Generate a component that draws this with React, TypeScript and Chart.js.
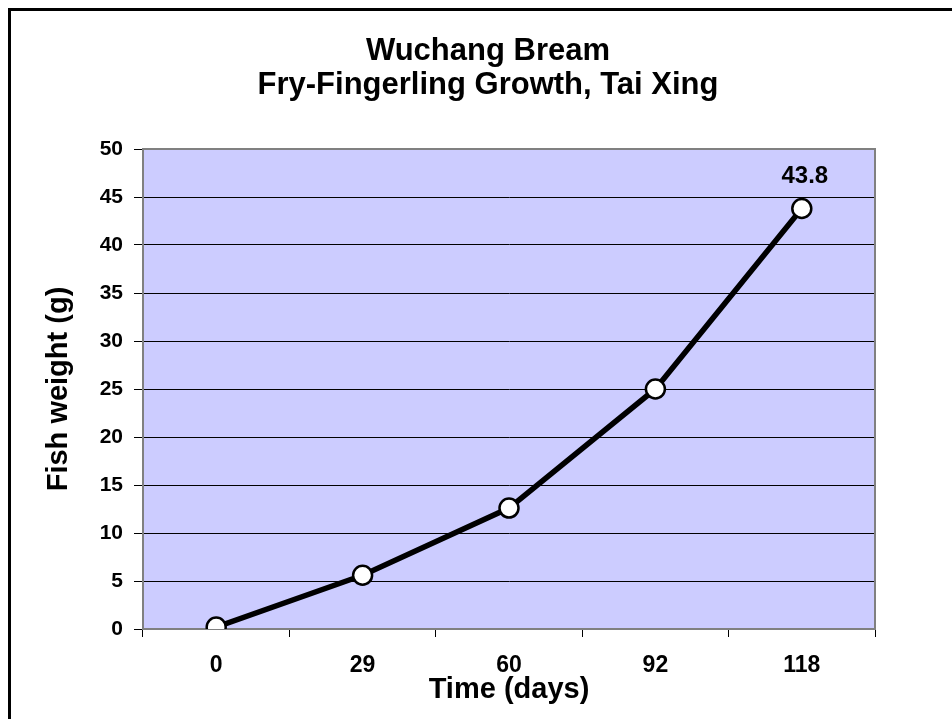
import React, { useEffect, useRef } from "react";
import { Chart, registerables } from "chart.js";

Chart.register(...registerables);

const categories = ["0", "29", "60", "92", "118"];
const weights = [0.2, 5.6, 12.6, 25.0, 43.8];
const titleLines = ["Wuchang Bream", "Fry-Fingerling Growth, Tai Xing"];
const xTitle = "Time (days)";
const yTitle = "Fish weight (g)";
const labelledIndex = 4;

const FONT = "'Liberation Sans', Arial, Helvetica, sans-serif";

const plotDecor = {
  id: "plotDecor",
  beforeDraw(chart: any) {
    const { ctx, chartArea: a } = chart;
    ctx.save();
    ctx.fillStyle = "#CCCCFF";
    ctx.fillRect(a.left, a.top, a.right - a.left, a.bottom - a.top);
    ctx.restore();
  },
  beforeDatasetsDraw(chart: any) {
    const { ctx, chartArea: a } = chart;
    ctx.save();
    ctx.strokeStyle = "#808080";
    ctx.lineWidth = 2;
    ctx.strokeRect(a.left, a.top, a.right - a.left, a.bottom - a.top);
    ctx.restore();
  },
  afterDraw(chart: any) {
    const { ctx } = chart;
    ctx.save();
    ctx.fillStyle = "#000";
    ctx.textAlign = "center";
    ctx.textBaseline = "middle";
    ctx.font = `bold 31px ${FONT}`;
    titleLines.forEach((t, i) => ctx.fillText(t, 488, 51 + i * 34));
    const pt = chart.getDatasetMeta(0).data[labelledIndex];
    ctx.font = `bold 24px ${FONT}`;
    ctx.fillText(String(weights[labelledIndex]), pt.x + 3, pt.y - 32);
    ctx.restore();
  },
};

export default function App() {
  const ref = useRef<HTMLCanvasElement | null>(null);
  useEffect(() => {
    const canvas = ref.current!;
    const chart = new Chart(canvas, {
      type: "line",
      data: {
        labels: categories,
        datasets: [
          {
            data: weights,
            borderColor: "#000",
            borderWidth: 5.5,
            pointRadius: 9.5,
            pointBackgroundColor: "#fff",
            pointBorderColor: "#000",
            pointBorderWidth: 2.5,
            tension: 0,
            fill: false,
          },
        ],
      },
      options: {
        responsive: false,
        animation: false,
        devicePixelRatio: 1,
        layout: { padding: { top: 149, right: 77, left: 0, bottom: 0 } },
        plugins: {
          legend: { display: false },
          title: { display: false },
          tooltip: { enabled: false },
        },
        scales: {
          x: {
            type: "category",
            offset: true,
            afterFit(s: any) {
              s.height = 90;
            },
            grid: {
              offset: true,
              drawOnChartArea: false,
              drawTicks: true,
              tickLength: 8,
              tickColor: "#000",
              tickWidth: 1,
            },
            border: { display: true, color: "#808080", width: 2 },
            ticks: {
              color: "#000",
              padding: 15,
              maxRotation: 0,
              font: { family: FONT, size: 23, weight: "bold" },
            },
            title: {
              display: true,
              text: xTitle,
              color: "#000",
              padding: { top: 0, bottom: 12 },
              font: { family: FONT, size: 29, weight: "bold" },
            },
          },
          y: {
            min: 0,
            max: 50,
            afterFit(s: any) {
              s.width = 143;
            },
            ticks: {
              stepSize: 5,
              color: "#000",
              padding: 11,
              font: { family: FONT, size: 21, weight: "bold" },
            },
            grid: {
              color: "#000",
              lineWidth: 1,
              drawTicks: true,
              tickLength: 9,
              tickColor: "#000",
            },
            border: { display: true, color: "#808080", width: 2 },
            title: {
              display: true,
              text: yTitle,
              color: "#000",
              padding: { top: 42, bottom: 0 },
              font: { family: FONT, size: 29, weight: "bold" },
            },
          },
        },
      },
      plugins: [plotDecor],
    });
    return () => chart.destroy();
  }, []);

  return (
    <div
      style={{
        position: "fixed",
        left: 0,
        top: 0,
        width: 952,
        height: 719,
        overflow: "hidden",
        background: "#fff",
      }}
    >
      <div
        style={{
          position: "absolute",
          left: 8,
          top: 8,
          width: 980,
          height: 800,
          border: "3px solid #000",
        }}
      />
      <canvas
        ref={ref}
        width={952}
        height={719}
        style={{ position: "absolute", left: 0, top: 0, width: 952, height: 719 }}
      />
    </div>
  );
}
